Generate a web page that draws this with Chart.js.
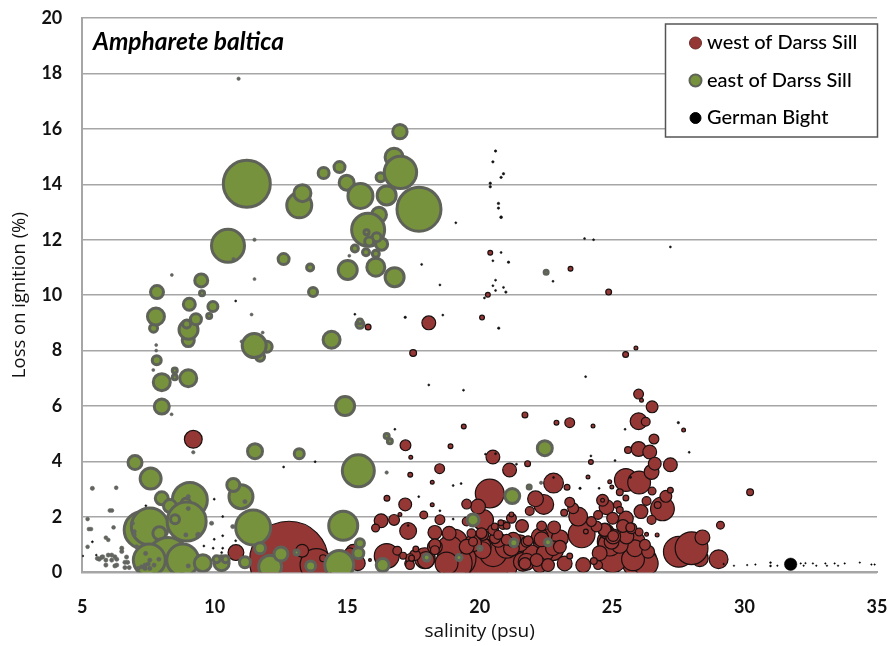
<!DOCTYPE html>
<html>
<head>
<meta charset="utf-8">
<title>Ampharete baltica</title>
<script src="https://cdn.jsdelivr.net/npm/chart.js@4"></script>
<style>
html, body { margin: 0; background: #fff; }
</style>
</head>
<body>
<canvas id="chart" width="889" height="646"></canvas>
<script>
// every entry: salinity, loss on ignition, bubble size
const westLarge = [
[12.8,0.42,40],[20.26,0.44,25],[20.51,0.32,25],[19.13,0.51,20],[19.06,0.32,18],[26.04,0.38,18],[13.84,0.26,17],[27.52,0.74,16],[28.31,0.51,9],[28.0,0.87,17],
[20.38,2.84,15],[25.02,0.51,15],[22.58,1.05,15],[20.51,0.69,14],[19.06,1.1,13],[18.87,0.87,13],[16.49,0.59,13],[26.27,0.32,13],[23.85,1.37,14],[24.91,1.1,13],
[25.79,0.47,12],[25.52,3.33,12],[26.02,3.24,12],[26.9,2.29,12.5],[21.02,0.92,12],[18.75,0.32,12],[24.91,1.0,12]
]
const westMedium = [
[22.79,3.22,10.5],[22.42,2.45,10.5],[23.72,2.01,10],[20.13,1.89,11],[29.02,0.47,10],[15.23,0.74,8],[9.19,4.8,9.5],[17.93,0.51,11],[22.77,0.8,11],
[20.08,0.92,10],[21.71,0.62,10],[21.63,0.38,10],[26.0,5.45,9],[17.3,1.49,9],[17.97,0.44,9],[20.11,0.8,9],[21.95,0.69,9],[23.03,1.23,9],[22.46,0.69,9],[25.92,1.14,9],[25.86,0.87,9],
[22.27,1.29,9],[21.77,0.38,9],[19.75,1.05,9],[21.52,1.05,9],[25.29,0.99,9],[22.11,2.65,8.5],[21.2,0.87,8.5],[10.8,0.71,8.5],[24.98,1.1,8],[26.0,4.45,8],[26.49,3.62,8],[19.94,2.37,8],[24.79,2.35,8],
[25.52,1.94,8],[22.34,1.19,8],[22.77,0.87,8],[22.27,0.26,8],[23.21,0.32,8],[23.91,0.26,8],[15.4,0.33,8],[28.41,1.26,8],[21.27,1.17,8],[19.51,0.92,8],[20.7,1.17,8],
[18.31,0.92,8],[25.54,1.29,8],[24.79,1.47,8],[25.04,1.29,8],[24.53,0.69,8],
[20.5,4.16,7.5],[21.13,3.69,7.5],[18.08,9.0,7.5],[16.28,1.86,7.5],[18.31,1.44,7.5],[18.85,1.41,7.5],[26.42,4.34,7.5],
[27.2,3.88,7.5],[24.73,1.53,7.5],[26.09,2.19,7.5],[17.19,2.45,7],[21.6,1.67,7],[22.81,1.62,7],[26.61,3.92,7],[23.03,0.92,7],[22.58,0.26,7],[22.15,0.44,7],
[24.72,1.53,7],[25.41,1.67,7],[26.36,0.74,7],[13.3,0.78,7],[26.51,5.97,6.5],[27.03,2.74,6.5],[25.02,1.95,6.5],[18.31,0.99,6.5],
[21.71,0.32,6.5],[17.2,4.58,6],[16.77,1.89,6],[20.13,1.35,6],[21.02,1.17,6],[20.58,1.23,6],[23.53,2.31,6],[24.41,1.65,6],
[24.64,2.6,6.5],[25.04,1.31,6],[26.24,0.99,6],[15.1,0.69,6],[20.07,1.41,6],[20.51,1.53,6],[21.77,1.1,6],[17.56,0.62,6],[25.73,1.59,6]
]
const westSmall = [
[23.4,5.4,5.5],[18.49,3.74,5.5],[19.51,2.46,5.5],[18.5,1.9,5.5],[21.2,1.95,5.5],[21.83,1.14,5.5],[22.34,1.67,5.5],[23.4,2.53,5.5],
[24.22,1.83,5.5],[26.0,6.43,5.5],[26.58,4.81,5.5],[21.89,2.21,5],[19.51,1.83,5],[19.69,1.41,5],[19.75,1.1,5],[18.31,0.8,5],[20.7,1.35,5],[20.88,1.71,5],[24.47,0.26,5],
[16.89,0.78,5],[17.34,0.32,5],[24.47,2.07,5],[25.69,1.62,5],[26.3,2.57,5],[26.49,1.89,5],[26.27,5.43,5],[17.37,0.51,5],[17.37,0.26,5],
[17.89,2.07,4.5],[16.07,1.6,4.5],[26.51,2.93,4.5],[29.09,1.7,4.5],[26.02,1.45,4.5],[25.2,2.44,4.5],
[17.49,7.91,4],[25.6,4.41,4],[26.72,2.43,4],[25.29,2.89,4],[25.29,2.25,4],[20.57,1.65,4],[21.02,1.68,4],[23.19,2.15,4],[17.11,0.6,4],
[24.31,0.41,4],[14.09,0.51,4],[30.21,2.89,4],[15.79,8.85,3.5],[21.71,5.68,3.5],[24.87,10.11,3.5],[25.51,7.86,3.5],
[21.81,3.92,3.5],[23.3,3.07,3.5],[16.5,2.67,3.5],[20.8,1.79,3.5],[27.2,2.96,3.5],[25.52,2.68,3.5],[17.59,0.84,3.5],
[17.43,0.51,3.5],[23.4,0.59,3.5],[18.9,4.55,3],[19.4,5.26,3],[22.9,5.4,3],[20.4,11.53,3],[20.31,10.01,3],[20.09,9.19,3],
[23.43,10.95,3],[24.2,3.98,3],[17.38,3.52,3],[24.01,1.47,3],[21.2,2.09,3],[24.64,2.6,2.5],
[25.9,8.09,2.5],[24.28,5.28,2.5],[26.11,6.21,2.5],[27.7,5.13,2.5],[17.4,4.15,2.5],[24.09,3.44,2.5],[18.21,3.25,2.5],[18.21,2.44,2.5],
[16.99,2.09,2.5],[24.91,3.27,2.5],[24.99,3.08,2.5],[26.7,1.35,2.5],[26.3,1.37,2.5],[15.86,0.44,2]
]
const westDots = [
[20.6,15.2,1.5],[20.5,14.81,1.5],[20.9,14.38,1.5],[20.81,14.25,1.5],[20.4,14.04,1.5],[20.4,13.91,1.5],[20.71,13.31,1.5],[20.71,13.14,1.5],
[20.81,12.81,1.7],[19.1,12.61,1.3],[20.81,11.54,1.3],[20.5,11.24,1.3],[21.09,11.19,1.5],[17.81,11.11,1.3],[18.5,10.37,1.3],[20.6,10.54,1.3],
[20.5,10.34,1.3],[20.6,10.17,1.3],[20.9,10.28,1.3],[20.99,10.11,1.5],[20.18,9.9,1.3],[15.29,9.31,1.3],[17.19,9.2,1.5],[18.61,9.28,1.3],
[20.72,8.81,1.5],[27.2,11.74,1.3],[23.96,12.04,1.3],[24.3,12.0,1.3],[22.77,10.5,1.3],[24.0,7.06,1.3],[18.08,6.76,1.3],[19.39,6.57,1.3],
[16.8,5.16,1.3],[25.49,5.16,1.3],[27.5,5.4,1.5],[27.91,4.33,1.3],[25.11,4.03,1.3],[20.22,4.26,1.3],[20.6,4.28,1.3],[24.2,4.2,1.3],[21.39,3.9,1.3],
[23.79,3.03,1.5],[24.51,3.03,1.3],[19.0,3.13,1.3],[19.3,3.2,1.3],[17.7,2.73,1.3],[18.5,2.22,1.3],[19.0,1.92,1.3],[25.69,3.43,1.5],[22.79,3.42,1.3],
[17.3,1.69,1.3],[9.98,2.64,1.3],[10.3,2.01,1.3],[9.98,1.19,1.3],[10.3,1.32,1.3],[9.59,0.95,1.3],[9.94,0.87,1.3],[10.3,0.87,1.3],[10.26,0.71,1.3],
[10.79,1.14,1.3],[12.6,3.8,1.3],[13.79,3.99,1.3],[10.79,9.79,1.3],[5.38,1.1,1.3],[5.02,0.59,1.2],[7.4,2.4,1.3],[5.53,0.62,1.2]
]
const eastBubbles = [
[11.21,14.02,25],[13.19,13.24,14],[13.31,13.68,10],[14.11,14.41,7],[14.71,14.62,7],[14.98,14.06,9],[15.5,13.58,14],[16.99,15.9,8.7],
[16.77,14.98,10.5],[16.26,14.25,6],[17.01,14.43,17.7],[16.49,13.6,11],[17.71,13.1,23.5],[16.2,12.9,9],[15.79,12.36,18],[15.73,12.27,4],
[16.3,11.84,7.5],[16.11,12.09,6],[15.83,11.94,6],[15.29,11.68,5],[15.71,11.55,5],[16.08,11.49,5],[15.02,10.91,11],[16.08,11.01,10.5],[16.79,10.65,11],
[15.48,8.95,5.5],[15.48,9.05,4],[10.5,11.78,18],[12.6,11.3,7],[13.6,11.0,5],[9.49,10.53,8],[7.82,10.11,8],[9.52,10.07,4],[13.71,10.11,6],
[7.69,8.81,5.5],[7.78,9.23,10],[9.0,8.36,7.5],[9.01,8.75,11],[8.94,8.96,5.5],[9.29,9.13,7],[9.93,9.59,6.5],[9.79,9.25,4],[9.04,9.67,7.5],
[11.96,8.14,7],[11.71,7.78,6],[11.49,8.18,13.5],[14.41,8.39,10],[7.81,7.65,6],[8.49,7.28,4],[8.49,7.04,4],[9.0,7.0,10],[8.0,6.86,10],
[8.0,5.98,9],[14.92,6.0,11],[16.49,4.92,4],[16.61,4.73,4],[11.52,4.37,9],[13.19,4.28,6.5],[22.46,4.48,9],
[15.42,3.66,17.5],[6.99,3.96,8.5],[7.58,3.38,12],[9.06,2.61,19],[8.0,2.67,8],[8.31,2.39,8],[8.91,2.51,6],[7.28,1.53,20],[7.55,1.65,20],
[8.94,1.83,21],[8.5,1.91,6],[7.91,1.41,8],[8.24,0.52,22],[7.53,0.44,17.5],[8.79,0.44,17.5],[9.55,0.33,10],[10.26,0.33,9],[10.07,0.47,5],[10.41,0.47,5],
[10.99,2.73,13.5],[10.7,3.15,8],[11.45,1.62,19],[11.14,0.36,7],[12.09,0.2,13],[11.71,0.87,7],[12.5,0.66,8.5],[13.09,0.71,4],[13.62,0.23,6.5],
[14.85,1.68,16],[14.7,0.26,16],[15.42,0.69,7],[15.48,1.05,6],[16.34,0.26,8],[18.0,0.53,5],[19.22,0.53,4.5],[20.01,0.87,3.5],[19.75,1.89,7.5],
[21.29,1.07,5.5],[21.23,2.75,9],[21.87,3.08,3.5],[22.58,1.08,5],[22.51,10.83,3.5]
]
const eastDots = [
[10.9,17.81,2],[11.5,12.0,2],[8.38,10.73,1.8],[11.5,10.58,1.8],[10.71,11.3,2],[15.08,11.42,1.8],[11.39,9.3,1.8],[9.19,4.33,2],[8.37,5.7,1.8],
[7.68,7.3,1.8],[7.79,8.2,1.8],[7.79,8.0,1.8],[11.81,8.65,1.8],[11.01,8.33,1.8],[22.32,3.23,2],[16.49,3.6,2],
[5.38,3.03,2.4],[6.28,3.05,2.2],[6.04,2.23,2.2],[6.12,2.23,2.2],[5.2,1.92,2.2],[5.25,1.56,2.2],[5.33,1.56,2.2],[6.18,1.62,2.2],[5.2,0.92,2.2],[5.89,1.25,2.2],[5.98,1.17,2.2],
[6.49,0.87,2.4],[6.49,0.75,2.4],[5.64,0.47,2.4],[5.73,0.54,2.4],[5.57,0.5,2.4],[5.77,0.56,2.4],[5.89,0.44,2.4],[5.89,0.26,2.4],[5.98,0.62,2.4],[6.11,0.62,2.4],[6.23,0.56,2.4],
[6.3,0.47,2.4],[6.11,0.44,2.4],[6.23,0.23,2.4],[6.3,0.26,2.4],[6.67,0.55,2.4],[6.61,0.36,2.4],[6.71,0.36,2.4],[6.61,0.17,2.4],[6.77,0.17,2.4],
[7.11,0.14,2.4],[7.24,0.2,2.4],[7.37,0.26,2.4],[7.49,0.3,2.4],[7.37,0.14,2.4],[7.55,0.14,2.4],[7.55,0.44,2.4],[7.39,0.68,2.4],[7.89,0.47,2.4],[7.71,0.26,2.4],[9.0,0.23,2.4],
[6.89,1.77,2.4],[6.96,1.47,2.4],[6.96,1.35,2.4],[7.05,0.92,2.4],[8.91,1.35,2.4],[9.38,1.35,3],[9.88,1.77,2.4],[9.0,2.73,2.4],[9.0,2.3,2.4],[11.14,2.55,2.4],[10.68,1.65,2.4]
]
const bightBubbles = [
[31.74,0.29,6.5],[29.21,0.3,1],[29.6,0.24,1],[30.1,0.26,1],[30.41,0.28,1],[30.98,0.35,1.2],[30.98,0.23,1.2],[31.24,0.24,1],
[32.12,0.32,1],[32.23,0.24,1],[32.3,0.33,1],[32.58,0.32,1],[32.71,0.24,1],[33.05,0.32,1],[33.11,0.24,1],[33.4,0.32,1],[33.53,0.24,1],
[33.78,0.32,1],[34.35,0.35,1],[34.79,0.28,1],[34.91,0.28,1]
]
const xTicks = [5, 10, 15, 20, 25, 30, 35]
const yTicks = [0, 2, 4, 6, 8, 10, 12, 14, 16, 18, 20]
const legendLabels = ["west of Darss Sill", "east of Darss Sill", "German Bight"]

const red = "#953735"
const green = "#76923c"
const edge = "#5f6259"
const fontName = "Lato, 'Open Sans', sans-serif"
const axisFont = "'Open Sans', Lato, sans-serif"

function toPoints(rows, border) {
  return rows.map(row => ({ x: row[0], y: row[1], r: Math.max(row[2] - border / 2, 0.4) }))
}

// tick padding would otherwise push the plot in from the canvas edges
function noScalePadding(scale) {
  scale.paddingLeft = 0
  scale.paddingRight = 0
  scale.paddingTop = 0
  scale.paddingBottom = 0
}

// the species name and the legend box sit inside the plot
const notes = {
  id: "notes",
  afterDraw(chart) {
    const c = chart.ctx
    c.save()
    c.fillStyle = "#000"
    c.textBaseline = "middle"
    c.font = "italic bold 24.5px " + fontName
    c.fillText("Ampharete baltica", 93, 42)

    c.fillStyle = "#fff"
    c.strokeStyle = "#555"
    c.lineWidth = 1.5
    c.fillRect(665.5, 24, 212, 113)
    c.strokeRect(665.5, 24, 212, 113)

    const markers = [[red, "#6b2a2a", 6], [green, edge, 6], ["#000", "#000", 5.5]]
    legendLabels.forEach((label, i) => {
      const y = 43 + i * 37.5
      c.beginPath()
      c.arc(695.5, y, markers[i][2], 0, Math.PI * 2)
      c.fillStyle = markers[i][0]
      c.fill()
      c.lineWidth = i == 1 ? 2 : 1
      c.strokeStyle = markers[i][1]
      c.stroke()
      c.fillStyle = "#000"
      c.font = "500 20px " + fontName
      c.fillText(label, 707, y)
    })
    c.restore()
  }
}

const chart = new Chart(document.getElementById("chart"), {
  type: "bubble",
  data: {
    datasets: [
      {
        label: legendLabels[0],
        data: toPoints(westLarge.concat(westMedium, westSmall), 1.2),
        backgroundColor: red,
        borderColor: "#1a1010",
        borderWidth: 1.2,
        clip: 0,
        order: 5
      },
      {
        label: legendLabels[0] + " (small)",
        data: toPoints(westDots, 0.6),
        backgroundColor: "#111",
        borderColor: "#111",
        borderWidth: 0.6,
        clip: 0,
        order: 4
      },
      {
        label: legendLabels[1],
        data: toPoints(eastBubbles, 3),
        backgroundColor: green,
        borderColor: edge,
        borderWidth: 3,
        clip: 0,
        order: 3
      },
      {
        label: legendLabels[1] + " (small)",
        data: toPoints(eastDots, 0.6),
        backgroundColor: "#62645f",
        borderColor: "#62645f",
        borderWidth: 0.6,
        clip: 0,
        order: 2
      },
      {
        label: legendLabels[2],
        data: toPoints(bightBubbles, 0.5),
        backgroundColor: "#000",
        borderColor: "#000",
        borderWidth: 0.5,
        clip: 0,
        order: 1
      }
    ]
  },
  options: {
    responsive: false,
    animation: false,
    layout: { autoPadding: false, padding: { top: 18, right: 12 } },
    plugins: { legend: { display: false }, tooltip: { enabled: false } },
    scales: {
      x: {
        type: "linear",
        min: 5,
        max: 35,
        afterBuildTicks(scale) { scale.ticks = xTicks.map(v => ({ value: v })) },
        afterFit(scale) { scale.height = 73.7; noScalePadding(scale) },
        grid: { display: false, drawTicks: false },
        border: { display: true, color: "#a6a6a6", width: 2 },
        ticks: { padding: 24, maxRotation: 0, color: "#111", font: { family: fontName, size: 18, weight: "bold" } },
        title: { display: true, text: "salinity (psu)", color: "#111", padding: { top: 0, bottom: 3 }, font: { family: axisFont, size: 19, weight: "500" } }
      },
      y: {
        type: "linear",
        min: 0,
        max: 20,
        afterBuildTicks(scale) { scale.ticks = yTicks.map(v => ({ value: v })) },
        afterFit(scale) { scale.width = 82.3; noScalePadding(scale) },
        grid: { color: "#a6a6a6", lineWidth: 1.5, drawTicks: false },
        border: { display: true, color: "#a6a6a6", width: 2 },
        ticks: { padding: 20, color: "#111", font: { family: fontName, size: 18, weight: "bold" } },
        title: { display: true, text: "Loss on ignition (%)", color: "#111", padding: { top: 9, bottom: 0 }, font: { family: axisFont, size: 18.5, weight: "500" } }
      }
    }
  },
  plugins: [notes]
})
</script>
</body>
</html>
